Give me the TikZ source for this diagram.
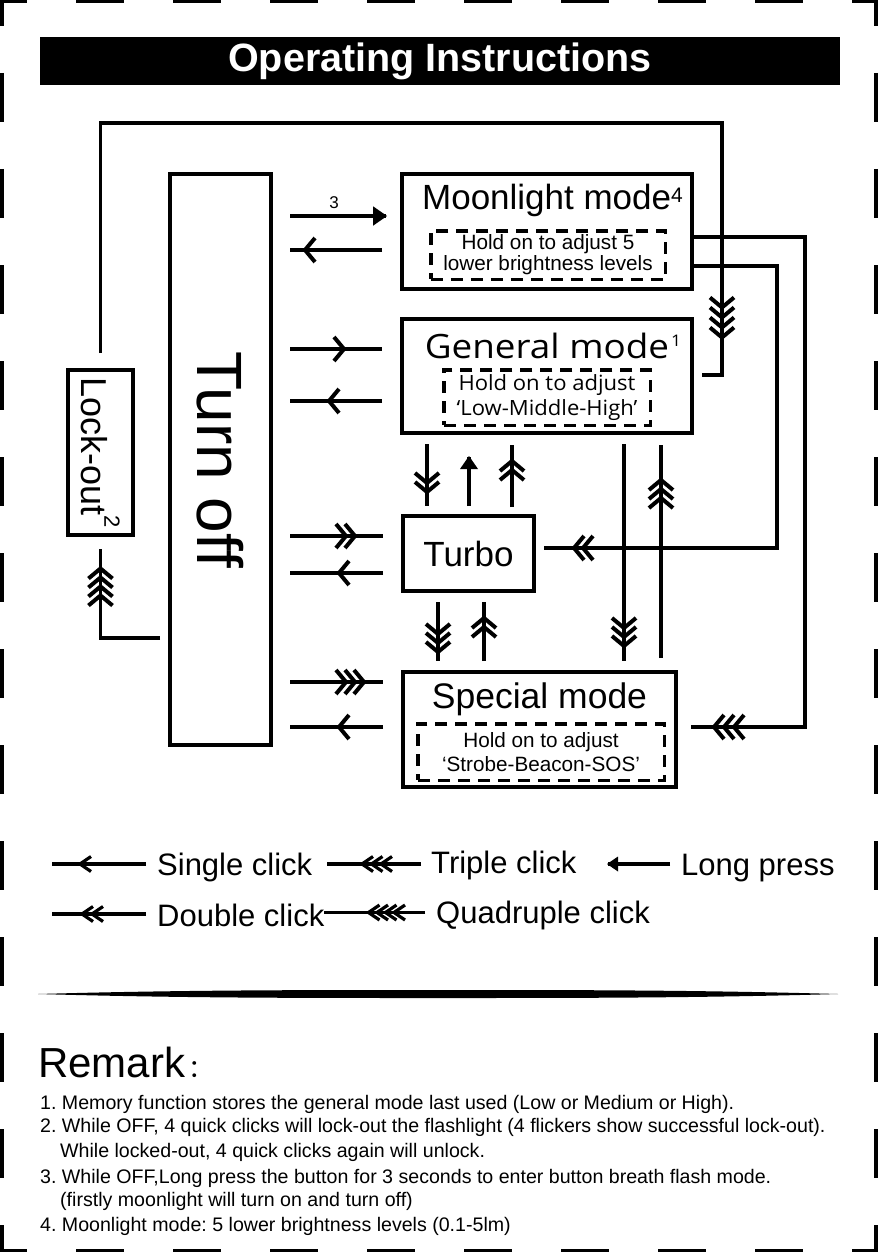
\documentclass[tikz,border=0pt]{standalone}
\usepackage{fontspec}
\setmainfont{Liberation Sans}
\newfontfamily\gfont[FakeStretch=1.1]{Open Sans}
\newfontfamily\gfontb[FakeStretch=1.05]{Open Sans}
\newfontfamily\cjk{Noto Sans CJK SC}
\usetikzlibrary{decorations.markings,calc}
\frenchspacing

\newcommand{\fsz}[2]{\fontsize{#1}{#2}\selectfont}
\newcommand{\supr}[3]{\raisebox{#1}{\fsz{#2}{#2}#3}}

\begin{document}
\begin{tikzpicture}[x=1pt,y=-1pt,
	box/.style={draw,line width=4pt,inner sep=0pt},
	hold/.style={draw,line width=3.5pt,dash pattern=on 12pt off 8pt,inner sep=0pt,align=center},
	con/.style={line width=3.8pt},
	lcon/.style={line width=3.4pt},
	txt/.style={inner sep=0pt,anchor=base},
	rm/.style={inner sep=0pt,anchor=base west,font=\fsz{19.6}{22}},
	lg/.style={inner sep=0pt,anchor=base west,font=\fsz{31}{34}},
	clk/.style n args={3}{postaction={decorate,decoration={markings,
		mark=between positions #1 and #2 step #3 with {\draw[line width=4pt] (-10pt,-12pt) -- (0pt,0pt) -- (-10pt,12pt);}}}},
	lclk/.style n args={3}{postaction={decorate,decoration={markings,
		mark=between positions #1 and #2 step #3 with {\draw[line width=3.2pt] (-11pt,-7.5pt) -- (0pt,0pt) -- (-11pt,7.5pt);}}}},
	lpress/.style={postaction={decorate,decoration={markings,
		mark=at position 1 with {\fill (1pt,0pt) -- (-#1,-0.75*#1) -- (-#1,0.75*#1) -- cycle;}}}}]

	\useasboundingbox (0,0) rectangle (878,1252);

	% page border
	\draw[line width=4pt,dash pattern=on 49pt off 47pt] (2,-23) -- (2,1252) (876,-23) -- (876,1252);
	\draw[line width=3pt,dash pattern=on 48pt off 49pt] (-21,1.5) -- (878,1.5) (-21,1250.5) -- (878,1250.5);

	% title
	\fill (40,37) rectangle (840,85);
	\node[txt,text=white,font=\bfseries\fsz{39.5}{44}] (title) at (440,72) {Operating Instructions};

	% boxes
	\node[box,minimum width=101pt,minimum height=571pt,font=\fsz{64}{70}] (off) at (220.5,459.5) {\rotatebox{-90}{Turn off}};
	\node[box,minimum width=65pt,minimum height=165pt,font=\fsz{36}{40}] (lock) at (100.5,452.5) {\rotatebox{-90}{Lock-out\supr{23pt}{22}{2}}};
	\node[box,minimum width=290pt,minimum height=115pt] (moon) at (547,231.5) {};
	\node[box,minimum width=290pt,minimum height=114pt] (gen) at (547,376) {};
	\node[box,minimum width=131pt,minimum height=75pt,font=\fsz{35}{40}] (turbo) at (468.5,553.5) {Turbo};
	\node[box,minimum width=273pt,minimum height=115pt] (spec) at (539.5,729.5) {};

	\node[txt,font=\fsz{35}{40}] (moonT) at (552.5,210) {Moonlight mode\supr{8pt}{21}{4}};
	\node[hold,minimum width=234.5pt,minimum height=48.5pt,font=\fsz{20.7}{21}] (moonH) at (548,255) {Hold on to adjust 5\\lower brightness levels};
	\node[txt,font=\gfont\fsz{33.5}{40}] (genT) at (553,358) {General mode\hspace{2pt}\supr{12pt}{16}{1}};
	\node[hold,minimum width=206.5pt,minimum height=55.5pt,font=\gfontb\fsz{21}{25}] (genH) at (547,397.5) {Hold on to adjust\\‘Low-Middle-High’};
	\node[txt,font=\fsz{35.5}{40}] (specT) at (539.5,708) {Special mode};
	\node[hold,minimum width=246.5pt,minimum height=56.5pt,font=\fsz{20.7}{24}] (specH) at (541,752) {Hold on to adjust\\‘Strobe-Beacon-SOS’};

	% turn off <-> modes
	\draw[con,lpress=13pt] ($(moon.west -| off.east)+(17,-15.5)$) -- ($(moon.west)+(-14,-15.5)$)
		node[pos=0.46,above=5pt,inner sep=0pt,font=\fsz{17}{17}] {3};
	\draw[con,clk={54pt}{54pt}{9pt}] ($(gen.west -| off.east)+(17,-27)$) -- ($(gen.west)+(-18,-27)$);
	\draw[con,clk={56pt}{66pt}{9pt}] ($(turbo.west -| off.east)+(17,-17.5)$) -- ($(turbo.west)+(-18,-17.5)$);
	\draw[con,clk={56pt}{75pt}{9pt}] ($(spec.west -| off.east)+(17,-47.5)$) -- ($(spec.west)+(-18,-47.5)$);
	\foreach \b/\dy/\p in {moon/18.5/77pt,gen/25/53pt,turbo/19.5/44pt,spec/-2.5/44pt}
		\draw[con,clk={\p}{\p}{9pt}] ($(\b.west)+(-18,\dy)$) -- ($(\b.west -| off.east)+(17,\dy)$);

	% between the modes
	\draw[con,clk={39pt}{49pt}{9pt}] ($(gen.south)+(-120,9)$) -- ($(turbo.north)+(-41.5,-8)$);
	\draw[con,lpress=12pt] ($(turbo.north)+(0.5,-8)$) -- ($(gen.south)+(-78,22)$);
	\draw[con,clk={37pt}{47pt}{9pt}] ($(turbo.north)+(43.5,-7)$) -- ($(gen.south)+(-35,10)$);
	\draw[con,clk={32pt}{51pt}{9pt}] ($(turbo.south)+(-30.5,9)$) -- ($(spec.north)+(-101.5,-9)$);
	\draw[con,clk={34pt}{44pt}{9pt}] ($(spec.north)+(-55.5,-9)$) -- ($(turbo.south)+(15.5,9)$);
	\draw[con,clk={184pt}{203pt}{9pt}] ($(gen.south)+(77,9)$) -- ($(spec.north)+(84.5,-9)$);
	\draw[con,clk={160pt}{179pt}{9pt}] ($(spec.north)+(121.5,-12)$) -- ($(gen.south)+(114,10)$);

	% loops on the right
	\draw[con,clk={672pt}{693pt}{10pt}] ([yshift=-5.5pt]moon.east) -- ++(111,0) |- ($(spec.east)+(13,-2.5)$);
	\draw[con,clk={559pt}{569pt}{9pt}] ([yshift=-34.5pt]moon.east) -- ++(83,0) |- ($(turbo.east)+(7.5,-5.5)$);

	% lock-out
	\draw[con,clk={1036pt}{1067pt}{10pt}] ([yshift=15pt]lock.north) -- ++(0,-230) -| ($(gen.east)+(28,-1)$) -- ($(gen.east)+(8,-1)$);
	\draw[con,clk={102pt}{130pt}{9pt}] ($(off.west)+(-8,178.5)$) -| ($(lock.south)+(0,12)$);

	% legend
	\node[lg] (sgl) at (157,875) {Single click};
	\node[lg] (tpl) at (431,873) {Triple click};
	\node[lg] (lng) at (681,875) {Long press};
	\node[lg] (dbl) at (157,926) {Double click};
	\node[lg] (qdr) at (436,923) {Quadruple click};
	\draw[lcon,lclk={66pt}{66pt}{9pt}] ($(sgl.base west)+(-11,-11)$) -- ++(-94,0);
	\draw[lcon,lclk={40pt}{60pt}{9.5pt}] ($(tpl.base west)+(-10,-9)$) -- ++(-94,0);
	\draw[lcon,lpress=10pt] ($(lng.base west)+(-11,-11)$) -- ++(-62,0);
	\draw[lcon,lclk={54pt}{65pt}{10pt}] ($(dbl.base west)+(-11,-12)$) -- ++(-94,0);
	\draw[lcon,lclk={31pt}{59pt}{8.5pt}] ($(qdr.base west)+(-11,-10.5)$) -- ++(-101,0);

	% divider
	\fill (38,994) .. controls (180,990) and (300,990) .. (438,990) .. controls (576,990) and (696,990) .. (838,994)
		.. controls (696,998) and (576,998) .. (438,998) .. controls (300,998) and (180,998) .. cycle;

	% remarks
	\node[inner sep=0pt,anchor=base west,font=\fsz{42}{48}] (rem) at (38,1077) {Remark\hspace{3pt}{\cjk\fsz{25}{25}：}};
	\node[rm] (r1) at (40,1109) {1. Memory function stores the general mode last used (Low or Medium or High).};
	\node[rm] (r2) at (40,1132) {2. While OFF, 4 quick clicks will lock-out the flashlight (4 flickers show successful lock-out).};
	\node[rm] (r2b) at (60,1157) {While locked-out, 4 quick clicks again will unlock.};
	\node[rm] (r3) at (40,1183) {3. While OFF,Long press the button for 3 seconds to enter button breath flash mode.};
	\node[rm] (r3b) at (60,1206) {(firstly moonlight will turn on and turn off)};
	\node[rm] (r4) at (40,1231) {4. Moonlight mode: 5 lower brightness levels (0.1-5lm)};

\end{tikzpicture}
\end{document}
